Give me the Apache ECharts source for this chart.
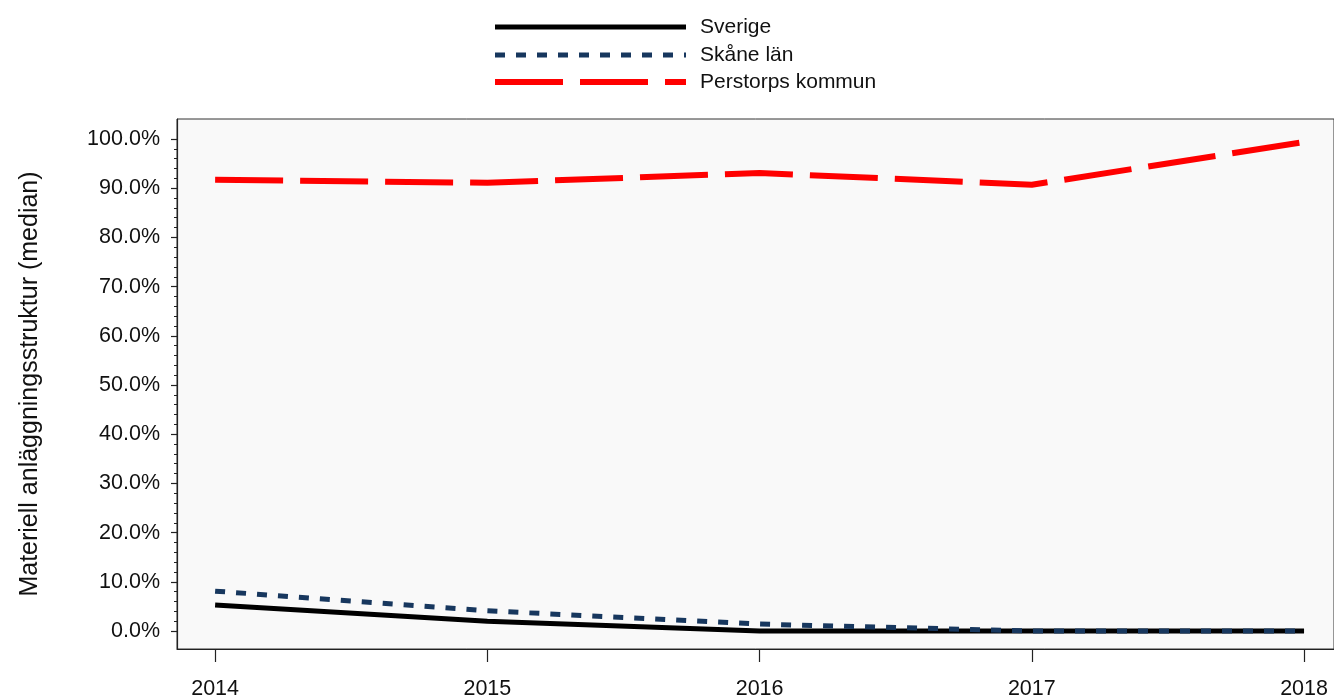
<!DOCTYPE html>
<html>
<head>
<meta charset="utf-8">
<script src="https://cdn.jsdelivr.net/npm/echarts@6/dist/echarts.min.js"></script>
<style>
html,body{margin:0;padding:0;background:#fff;}
#chart{width:1334px;height:697px;}
</style>
</head>
<body>
<div id="chart"></div>
<script>
const years = [2014, 2015, 2016, 2017, 2018];
const seriesNames = ['Sverige', 'Skåne län', 'Perstorps kommun'];
const sverige = [5.3, 2.0, 0.0, 0.0, 0.0];
const skane = [8.1, 4.1, 1.4, 0.0, 0.0];
const perstorp = [91.7, 91.1, 93.1, 90.7, 99.4];
const yTicks = [0, 10, 20, 30, 40, 50, 60, 70, 80, 90, 100];
const yMinorTicks = [];
for (let v = 2; v <= 98; v += 2) { if (v % 10 !== 0) yMinorTicks.push(v); }

const FONT = 'Liberation Sans, Arial, sans-serif';
const TXT = '#111';

const styles = [
  {color: '#000000', width: 5, type: 'solid'},
  {color: '#17375e', width: 5, type: [10, 11]},
  {color: '#ff0000', width: 6, type: [68, 17]}
];

const chart = echarts.init(document.getElementById('chart'), null, {renderer: 'canvas'});
const pairs = arr => years.map((y, i) => [y, arr[i]]);

// legend drawn as graphic elements
const legendGraphics = [];
const legendRowsY = [27, 55, 82];
seriesNames.forEach((n, i) => {
  const s = styles[i];
  legendGraphics.push({
    type: 'line',
    shape: {x1: 495, y1: legendRowsY[i], x2: 686, y2: legendRowsY[i]},
    style: {stroke: s.color, lineWidth: s.width, lineDash: s.type === 'solid' ? null : s.type}
  });
  legendGraphics.push({
    type: 'text',
    x: 700, y: legendRowsY[i],
    style: {text: n, fill: TXT, font: '21px ' + FONT, textVerticalAlign: 'middle', verticalAlign: 'middle'}
  });
});

chart.setOption({
  animation: false,
  backgroundColor: '#ffffff',
  textStyle: {fontFamily: FONT},
  graphic: legendGraphics,
  grid: {
    left: 177, right: 0, top: 119, bottom: 48,
    outerBoundsMode: 'none',
    containLabel: false,
    show: true, backgroundColor: '#f9f9f9', borderColor: '#333', borderWidth: 1
  },
  xAxis: {
    type: 'value',
    min: 2013.86, max: 2018.11,
    splitLine: {show: false},
    axisLine: {show: true, onZero: false, lineStyle: {color: '#222', width: 1.2}},
    axisTick: {show: true, customValues: years, length: 13, lineStyle: {color: '#222', width: 1.2}},
    axisLabel: {
      customValues: years, margin: 29, fontSize: 21.5, color: TXT, fontFamily: FONT,
      formatter: v => String(Math.round(v))
    }
  },
  yAxis: [{
    type: 'value',
    min: -3.66, max: 104.07,
    splitLine: {show: false},
    axisLine: {show: true, onZero: false, lineStyle: {color: '#222', width: 1.2}},
    axisTick: {show: true, customValues: yTicks, length: 6, lineStyle: {color: '#222', width: 1.2}},
    axisLabel: {
      customValues: yTicks, margin: 17, fontSize: 21.5, color: TXT, fontFamily: FONT,
      formatter: v => (Math.round(v * 10) / 10).toFixed(1) + '%'
    },
    name: 'Materiell anläggningsstruktur (median)',
    nameLocation: 'middle',
    nameGap: 134,
    nameTextStyle: {fontSize: 25, color: TXT, fontFamily: FONT}
  }, {
    type: 'value',
    position: 'left',
    min: -3.66, max: 104.07,
    splitLine: {show: false},
    axisLine: {show: false, onZero: false},
    axisTick: {show: true, customValues: yMinorTicks, length: 3, lineStyle: {color: '#222', width: 1}},
    axisLabel: {show: false}
  }],
  series: [{
    name: seriesNames[0],
    type: 'line',
    data: pairs(sverige),
    showSymbol: false,
    symbol: 'none',
    z: 3,
    lineStyle: styles[0],
    itemStyle: {color: styles[0].color}
  }, {
    name: seriesNames[1],
    type: 'line',
    data: pairs(skane),
    showSymbol: false,
    symbol: 'none',
    z: 4,
    lineStyle: styles[1],
    itemStyle: {color: styles[1].color}
  }, {
    name: seriesNames[2],
    type: 'line',
    data: pairs(perstorp),
    showSymbol: false,
    symbol: 'none',
    z: 5,
    lineStyle: styles[2],
    itemStyle: {color: styles[2].color}
  }]
});
</script>
</body>
</html>
